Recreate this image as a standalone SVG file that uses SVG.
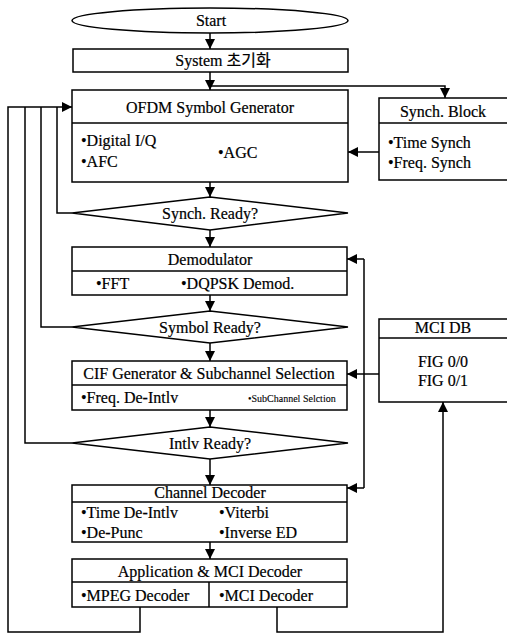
<svg xmlns="http://www.w3.org/2000/svg" width="507" height="634" viewBox="0 0 507 634">
<style>
.box{fill:#fff;stroke:#000;stroke-width:1.5}
.ln{fill:none;stroke:#000;stroke-width:1.5}
.arr{fill:none;stroke:#000;stroke-width:1.5;marker-end:url(#ah)}
text{font-family:"Liberation Serif","Noto Sans CJK KR",serif;font-size:16px;fill:#000;stroke:#000;stroke-width:0.2}
.c{text-anchor:middle}
.s{font-size:10px;stroke-width:0.1}
</style>
<defs>
<marker id="ah" viewBox="0 0 10 10" refX="10" refY="5" markerWidth="10" markerHeight="10" markerUnits="userSpaceOnUse" orient="auto">
<path d="M0,0 L10,5 L0,10 z" fill="#000"/>
</marker>
</defs>
<rect width="507" height="634" fill="#fff"/>
<g id="connectors">
<path class="arr" d="M210,33 V49"/>
<path class="arr" d="M210,72 V90"/>
<path class="arr" d="M210,86 H445 V98"/>
<path class="arr" d="M379,152 H348"/>
<path class="arr" d="M210,182 V197"/>
<path class="arr" d="M210,230 V247"/>
<path class="ln" d="M72,213 H57 V107"/>
<path class="arr" d="M210,295 V311"/>
<path class="ln" d="M72,327 H41 V107"/>
<path class="arr" d="M210,343 V361"/>
<path class="arr" d="M210,410 V427"/>
<path class="ln" d="M72,443 H25 V107"/>
<path class="arr" d="M210,459 V485"/>
<path class="arr" d="M210,542 V559"/>
<path class="arr" d="M140,607 V632 H8 V107 H72"/>
<path class="arr" d="M277,607 V632 H443 V402"/>
<path class="arr" d="M379,374 H347"/>
<path class="ln" d="M364,259 V488"/>
<path class="arr" d="M364,259 H347"/>
<path class="arr" d="M364,488 H347"/>
</g>
<g id="start">
<ellipse class="box" cx="210" cy="20.5" rx="138" ry="12.5"/>
<text class="c" x="211" y="26">Start</text>
</g>
<g id="init">
<rect class="box" x="73" y="49" width="275" height="23"/>
<text class="c" x="223" y="66">System 초기화</text>
</g>
<g id="ofdm">
<rect class="box" x="72" y="90" width="276" height="92"/>
<line class="ln" x1="72" y1="123" x2="348" y2="123"/>
<text class="c" x="210" y="113">OFDM Symbol Generator</text>
<text x="81" y="146">•Digital I/Q</text>
<text x="81" y="167">•AFC</text>
<text x="218" y="158">•AGC</text>
</g>
<g id="synch-block">
<rect class="box" x="379" y="98" width="135" height="82"/>
<line class="ln" x1="379" y1="123" x2="514" y2="123"/>
<text class="c" x="443" y="117">Synch. Block</text>
<text x="388" y="148">•Time Synch</text>
<text x="388" y="168">•Freq. Synch</text>
</g>
<g id="synch-ready">
<polygon class="box" points="72,213 210,197 348,213 210,230"/>
<text class="c" x="210" y="219">Synch. Ready?</text>
</g>
<g id="demod">
<rect class="box" x="72" y="247" width="275" height="48"/>
<line class="ln" x1="72" y1="271" x2="347" y2="271"/>
<text class="c" x="210" y="265">Demodulator</text>
<text x="96" y="289">•FFT</text>
<text x="181" y="289">•DQPSK Demod.</text>
</g>
<g id="symbol-ready">
<polygon class="box" points="72,327 210,311 348,327 210,343"/>
<text class="c" x="210" y="333">Symbol Ready?</text>
</g>
<g id="mci-db">
<rect class="box" x="379" y="319" width="135" height="83"/>
<line class="ln" x1="379" y1="338" x2="514" y2="338"/>
<text class="c" x="443" y="333">MCI DB</text>
<text class="c" x="443" y="367">FIG 0/0</text>
<text class="c" x="443" y="386">FIG 0/1</text>
</g>
<g id="cif">
<rect class="box" x="72" y="361" width="275" height="49"/>
<line class="ln" x1="72" y1="385" x2="347" y2="385"/>
<text class="c" x="209" y="379">CIF Generator &amp; Subchannel Selection</text>
<text x="81" y="403">•Freq. De-Intlv</text>
<text class="s" x="248" y="402">•SubChannel Selction</text>
</g>
<g id="intlv-ready">
<polygon class="box" points="72,443 210,427 348,443 210,459"/>
<text class="c" x="210" y="449">Intlv Ready?</text>
</g>
<g id="channel-decoder">
<rect class="box" x="72" y="485" width="275" height="57"/>
<line class="ln" x1="72" y1="502" x2="347" y2="502"/>
<text class="c" x="210" y="498">Channel Decoder</text>
<text x="81" y="518">•Time De-Intlv</text>
<text x="219" y="518">•Viterbi</text>
<text x="81" y="538">•De-Punc</text>
<text x="219" y="538">•Inverse ED</text>
</g>
<g id="app">
<rect class="box" x="72" y="559" width="275" height="48"/>
<line class="ln" x1="72" y1="582" x2="347" y2="582"/>
<line class="ln" x1="209" y1="582" x2="209" y2="607"/>
<text class="c" x="210" y="577">Application &amp; MCI Decoder</text>
<text x="81" y="601">•MPEG Decoder</text>
<text x="219" y="601">•MCI Decoder</text>
</g>
</svg>
